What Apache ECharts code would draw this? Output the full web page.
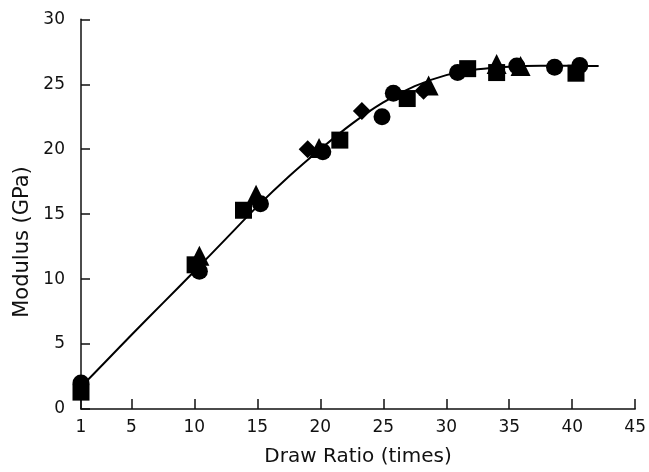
<!DOCTYPE html>
<html>
<head>
<meta charset="utf-8">
<script src="https://cdn.jsdelivr.net/npm/echarts@6/dist/echarts.min.js"></script>
<style>html,body{margin:0;padding:0;background:#fff}#c{width:649px;height:472px}</style>
</head>
<body>
<div id="c"></div>
<script>
var xTicks = [1, 5, 10, 15, 20, 25, 30, 35, 40, 45];
var circleX = [1.0, 10.4, 15.25, 20.2, 24.9, 25.8, 30.9, 35.6, 38.6, 40.6];
var circleY = [2.0, 10.6, 15.8, 19.8, 22.5, 24.3, 25.9, 26.4, 26.3, 26.45];
var squareX = [1.0, 10.06, 13.9, 21.55, 26.9, 31.7, 34.0, 40.3];
var squareY = [1.3, 11.1, 15.3, 20.7, 23.9, 26.2, 25.9, 25.85];
var triangleX = [10.4, 14.9, 19.9, 28.6, 34.0, 35.9];
var triangleY = [11.8, 16.5, 20.1, 24.9, 26.55, 26.4];
var diamondX = [19.0, 23.3, 28.2];
var diamondY = [20.0, 22.95, 24.5];
var curveX = [1, 3, 5, 7.5, 10, 12.5, 15, 17.5, 20, 22.5, 25, 27.5, 30, 32.5, 35, 37.5, 40, 42.1];
var curveY = [1.7, 3.7, 5.7, 8.15, 10.6, 13.1, 15.6, 17.9, 20.0, 21.95, 23.6, 24.85, 25.7, 26.15, 26.35, 26.42, 26.42, 26.4];

function pairs(xs, ys) { return xs.map(function (x, i) { return [x, ys[i]]; }); }

var font = 'DejaVu Sans';
var chart = echarts.init(document.getElementById('c'), null, {renderer: 'canvas'});
chart.setOption({
  animation: false,
  backgroundColor: '#fff',
  grid: {left: 81, right: 9, top: 19.3, bottom: 56.5},
  xAxis: {
    type: 'value', min: 1, max: 45,
    name: 'Draw Ratio (times)', nameLocation: 'middle', nameGap: 38,
    nameTextStyle: {fontFamily: font, fontSize: 20, color: '#111'},
    axisLine: {show: true, onZero: false, lineStyle: {color: '#111', width: 1.5}},
    axisTick: {show: true, inside: true, length: 10, customValues: xTicks, lineStyle: {color: '#111', width: 1.5}},
    axisLabel: {customValues: xTicks, fontFamily: font, fontSize: 17, color: '#111', margin: 10},
    splitLine: {show: false}
  },
  yAxis: {
    type: 'value', min: 0, max: 30, interval: 5,
    axisLine: {show: true, lineStyle: {color: '#111', width: 1.5}},
    axisTick: {show: true, inside: true, length: 9, lineStyle: {color: '#111', width: 1.5}},
    axisLabel: {fontFamily: font, fontSize: 17, color: '#111', margin: 16},
    splitLine: {show: false}
  },
  graphic: [{
    type: 'text', x: 23, y: 242, rotation: Math.PI / 2,
    style: {text: 'Modulus (GPa)', fontFamily: font, fontSize: 21, fill: '#111', align: 'center', verticalAlign: 'middle'}
  }],
  series: [
    {type: 'line', data: pairs(curveX, curveY), showSymbol: false, smooth: 0.3,
     lineStyle: {color: '#000', width: 2}, z: 3},
    {type: 'scatter', data: pairs(circleX, circleY), symbol: 'circle', symbolSize: 17, itemStyle: {color: '#000', opacity: 1}, z: 4},
    {type: 'scatter', data: pairs(squareX, squareY), symbol: 'rect', symbolSize: 17, itemStyle: {color: '#000', opacity: 1}, z: 4},
    {type: 'scatter', data: pairs(triangleX, triangleY), symbol: 'triangle', symbolSize: 20, itemStyle: {color: '#000', opacity: 1}, z: 4},
    {type: 'scatter', data: pairs(diamondX, diamondY), symbol: 'diamond', symbolSize: 18, itemStyle: {color: '#000', opacity: 1}, z: 4}
  ]
});
</script>
</body>
</html>
